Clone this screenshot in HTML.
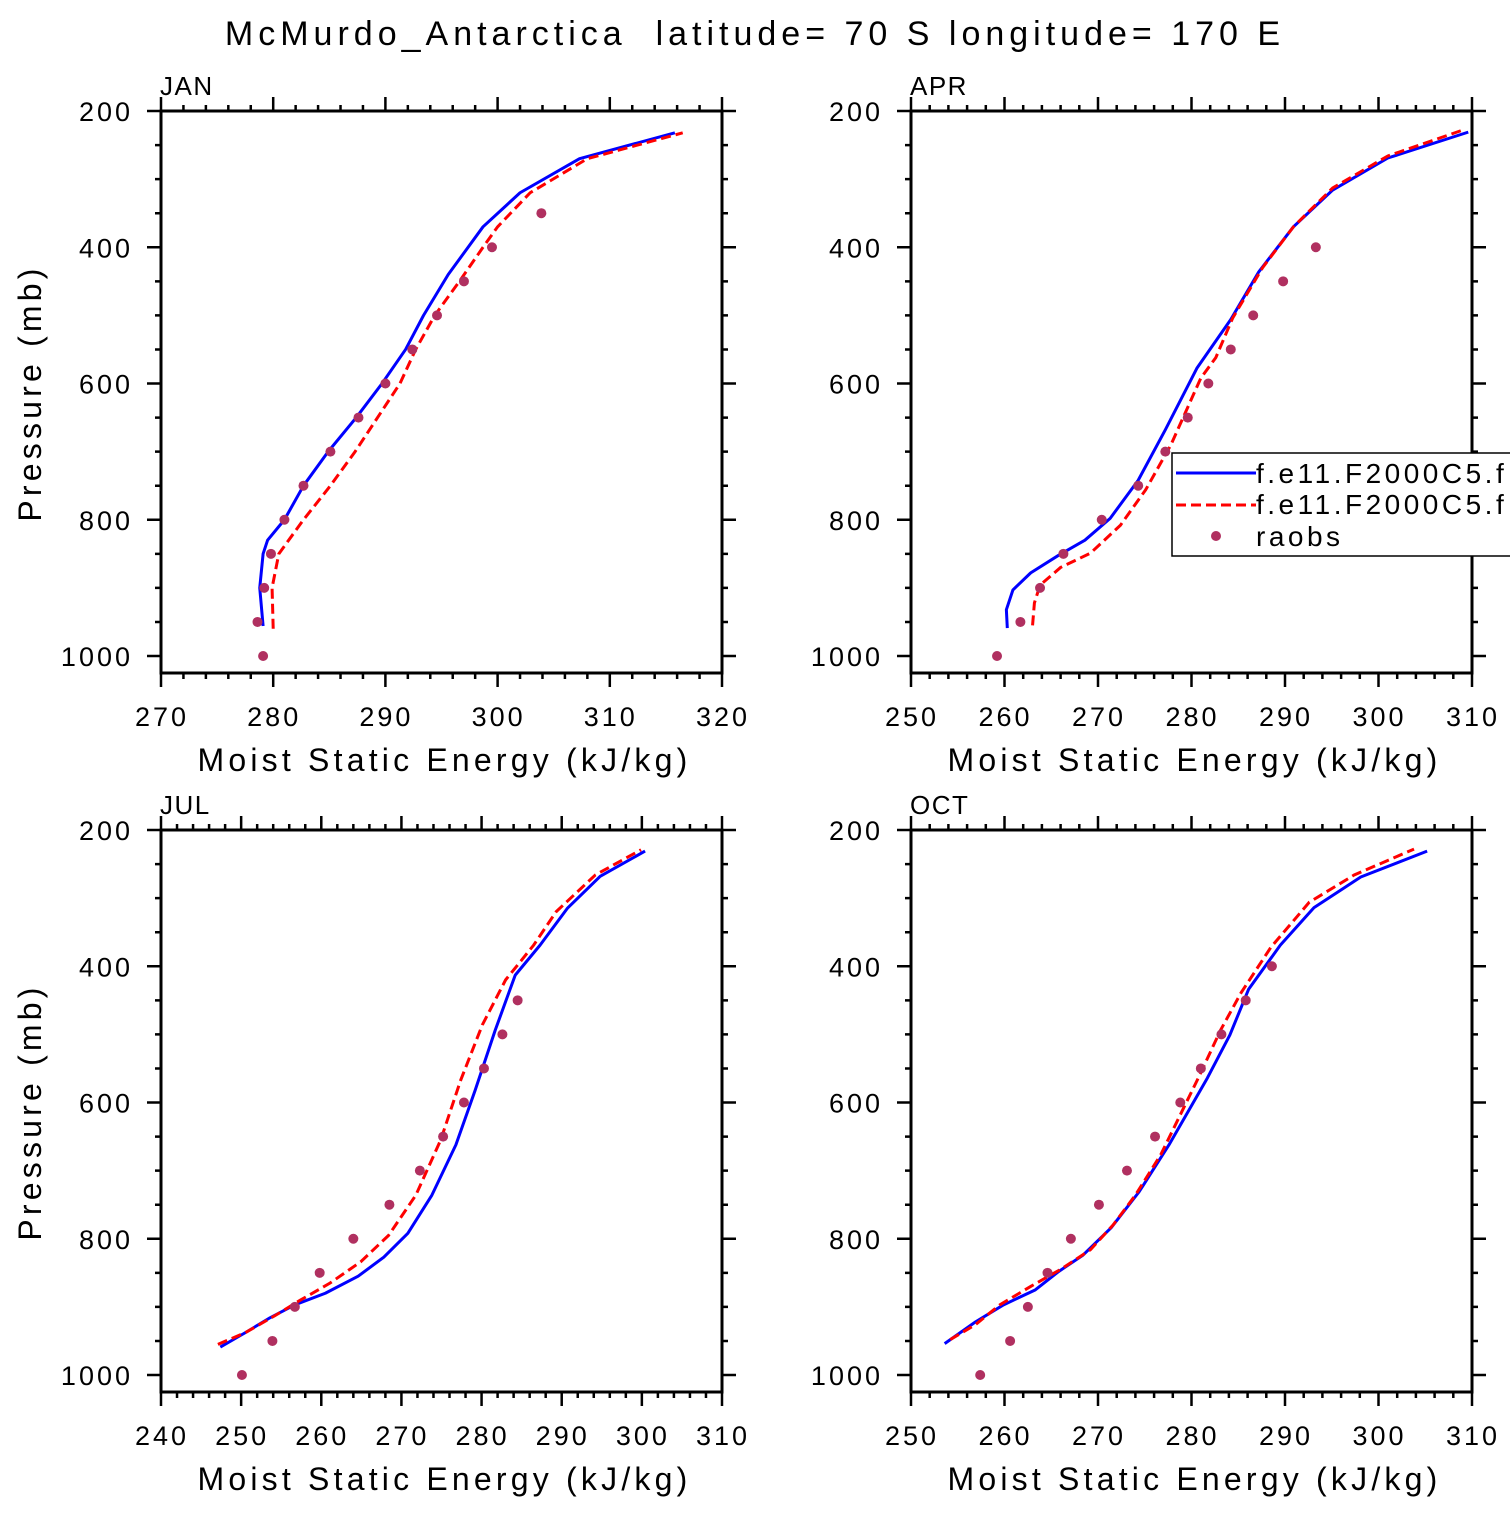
<!DOCTYPE html>
<html><head><meta charset="utf-8"><style>
html,body{margin:0;padding:0;background:#fff;}
svg text{font-family:"Liberation Sans",sans-serif;fill:#000;white-space:pre;}
</style></head><body>
<svg id="chart" width="1510" height="1510" xmlns="http://www.w3.org/2000/svg">
<text x="755" y="45" text-anchor="middle" font-size="34" letter-spacing="5" xml:space="preserve">McMurdo_Antarctica  latitude= 70 S longitude= 170 E</text>
</svg>
<script>
const panelNames = ["JAN","APR","JUL","OCT"];
const xMins = [270,250,240,250];
const xMaxs = [320,310,310,310];
const xTickLabels = [[270,280,290,300,310,320],[250,260,270,280,290,300,310],[240,250,260,270,280,290,300,310],[250,260,270,280,290,300,310]];
const yTickLabels = [200,400,600,800,1000];
// model 1 (blue) MSE and pressure
const blueMse = [
 [279.1,278.8,279.1,279.5,281.0,282.7,284.9,287.4,289.7,291.8,293.4,295.6,298.7,302,307.3,315.8],
 [260.3,260.2,260.9,262.8,265.8,268.6,271.3,274.3,277.2,280.6,284.2,287.2,290.9,295.1,301.0,309.6],
 [247.4,250.5,253.6,256.7,260.5,264.6,267.8,270.8,273.8,276.8,279.2,281.7,284.2,287.3,290.7,294.8,300.4],
 [253.6,256.9,259.9,263.3,265.8,268.4,271.4,274.4,277.6,281.7,284.1,286.1,289.5,293.1,298.1,305.2]];
const blueP = [
 [956,900,850,830,800,750,700,650,600,550,500,440,370,320,270,232],
 [959,932,903,878,852,830,798,742,668,577,506,436,370,316,269,231],
 [959,938,916,897,880,855,827,792,736,662,582,494,413,369,315,268,231],
 [954,922,897,875,848,824,784,731,662,564,501,434,369,314,269,231]];
// model 2 (red dashed)
const redMse = [
 [280,279.9,280.5,282.7,285.1,287.3,289.3,291.3,292.7,294.4,296.6,298.7,300,302.9,308,316.5],
 [263,263.2,263.8,266,269.2,272.4,275.1,277.8,281,282.6,284.4,287.6,290.9,295.1,301,308.8],
 [247.1,250.5,254.2,257.4,261.1,264.9,268.4,271.8,274.9,277.4,280.1,283,286.5,289.3,294.2,299.9],
 [254.2,256.9,259.5,262.8,266,269.2,271.6,274,276.7,280.8,283.1,285.3,288.5,292.6,297.4,303.8]];
const redP = [
 [960,900,850,800,750,700,650,600,550,500,450,400,370,320,270,232],
 [955,922,896,870,849,808,756,690,592,562,504,430,370,313,266,229],
 [955,938,913,890,865,834,795,736,655,567,486,420,369,320,266,229],
 [948,926,897,870,845,816,780,736,677,562,494,439,372,306,266,228]];
// raobs
const obsMse = [
 [279.1,278.6,279.2,279.8,281,282.7,285.1,287.6,290,292.4,294.6,297,299.5,303.9],
 [259.2,261.7,263.8,266.3,270.4,274.3,277.2,279.6,281.8,284.2,286.6,289.8,293.3],
 [250.1,253.9,256.7,259.8,264,268.5,272.3,275.2,277.8,280.3,282.6,284.5],
 [257.4,260.6,262.5,264.6,267.1,270.1,273.1,276.1,278.8,281,283.2,285.8,288.6]];
const obsP = [
 [1000,950,900,850,800,750,700,650,600,550,500,450,400,350],
 [1000,950,900,850,800,750,700,650,600,550,500,450,400],
 [1000,950,900,850,800,750,700,650,600,550,500,450],
 [1000,950,900,850,800,750,700,650,600,550,500,450,400]];

const NS="http://www.w3.org/2000/svg";
const svg=document.getElementById('chart');
function mk(tag,attrs,parent){const e=document.createElementNS(NS,tag);for(const k in attrs)e.setAttribute(k,attrs[k]);(parent||svg).appendChild(e);return e;}
const boxes=[[161,111],[911,111],[161,830],[911,830]];
const W=561,H=562;
for(let i=0;i<4;i++){
 const [L,T]=boxes[i];
 const g=mk('g',{});
 
 
 const xs=v=>L+(v-xMins[i])/(xMaxs[i]-xMins[i])*W;
 const ys=p=>T+(p-200)*0.68125;
 const B=T+H,R=L+W;
 let d='';
 for(let v=xMins[i];v<=xMaxs[i]+1e-6;v+=2){
  const maj=Math.abs((v-xMins[i])%10)<1e-6; const len=maj?14:6; const x=xs(v);
  d+=`M${x},${B}v${len}M${x},${T}v${-len}`;
 }
 for(let p=200;p<=1000;p+=50){
  const maj=p%200===0; const len=maj?14:6; const y=ys(p);
  d+=`M${L},${y}h${-len}M${R},${y}h${len}`;
 }
 const tk=mk('path',{d:d,stroke:'#000','stroke-width':2.5,fill:'none'},g);
 
 
 const bx=mk('rect',{x:L,y:T,width:W,height:H,fill:'none',stroke:'#000','stroke-width':3},g);
 
 
 xTickLabels[i].forEach(v=>{
  const t=mk('text',{x:xs(v)+1,y:B+53,'text-anchor':'middle','font-size':27,'letter-spacing':3},g);
  t.textContent=v;
  
  
 });
 yTickLabels.forEach(p=>{
  const t=mk('text',{x:L-28,y:ys(p)+10,'text-anchor':'end','font-size':27,'letter-spacing':3},g);
  t.textContent=p;
  
  
 });
 const xt=mk('text',{x:L+W/2+3,y:B+98,'text-anchor':'middle','font-size':32,'letter-spacing':4.2},g);
 xt.textContent='Moist Static Energy (kJ/kg)';
 
 
 if(L<500){
  const yt=mk('text',{x:0,y:0,'text-anchor':'middle','font-size':32,'letter-spacing':4.2,transform:`translate(41,${T+282}) rotate(-90)`},g);
  yt.textContent='Pressure (mb)';
  
  
 }
 const pt=mk('text',{x:L-1,y:T-16,'font-size':26,'letter-spacing':1.5},g);
 pt.textContent=panelNames[i];
 
 
 const bl=mk('polyline',{points:blueMse[i].map((v,k)=>xs(v)+','+ys(blueP[i][k])).join(' '),fill:'none',stroke:'#0000ff','stroke-width':3,'stroke-linejoin':'round'},g);
 
 
 const rl=mk('polyline',{points:redMse[i].map((v,k)=>xs(v)+','+ys(redP[i][k])).join(' '),fill:'none',stroke:'#ff0000','stroke-width':3,'stroke-dasharray':'10,5'},g);
 
 
 obsMse[i].forEach((v,k)=>{
  const c=mk('circle',{cx:xs(v),cy:ys(obsP[i][k]),r:5,fill:'#b03060'},g);
  
  
 });
}
const lg=mk('g',{});


const lr=mk('rect',{x:1172,y:453,width:340,height:103,fill:'#fff',stroke:'#000','stroke-width':1.5},lg);


const l1=mk('line',{x1:1176,y1:473,x2:1256,y2:473,stroke:'#0000ff','stroke-width':3},lg);


const l2=mk('line',{x1:1176,y1:505,x2:1256,y2:505,stroke:'#ff0000','stroke-width':3,'stroke-dasharray':'10,5'},lg);


const l3=mk('circle',{cx:1216,cy:536,r:5,fill:'#b03060'},lg);


[['f.e11.F2000C5.f',483],['f.e11.F2000C5.f',514],['raobs',546]].forEach(([s,y])=>{
 const t=mk('text',{x:1256,y:y,'font-size':28,'letter-spacing':3.5},lg);
 t.textContent=s;
 
 
});
</script>
</body></html>
